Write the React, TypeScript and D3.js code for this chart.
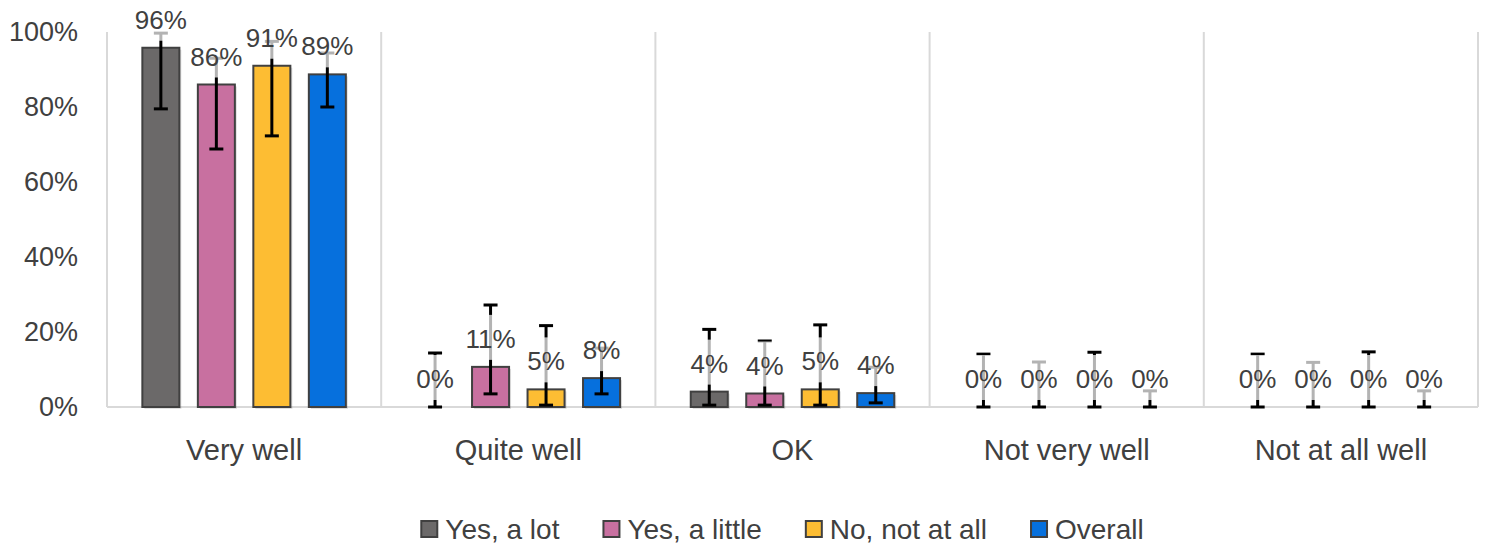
import React from "react";
import * as d3 from "d3";

const categories = ["Very well", "Quite well", "OK", "Not very well", "Not at all well"];
const seriesNames = ["Yes, a lot", "Yes, a little", "No, not at all", "Overall"];
const seriesColors = ["#6b6969", "#c870a0", "#fdbd33", "#0670dd"];

const yesALot = [0.958, 0, 0.041, 0, 0];
const yesALittle = [0.86, 0.107, 0.036, 0, 0];
const noNotAtAll = [0.91, 0.047, 0.047, 0, 0];
const overall = [0.887, 0.077, 0.037, 0, 0];

const yesALotUpper = [0.997, 0.144, 0.207, 0.141, 0.141];
const yesALittleUpper = [0.93, 0.272, 0.176, 0.12, 0.119];
const noNotAtAllUpper = [0.975, 0.217, 0.219, 0.146, 0.147];
const overallUpper = [0.944, 0.157, 0.106, 0.043, 0.043];

const yesALotLower = [0.795, 0, 0.005, 0, 0];
const yesALittleLower = [0.688, 0.035, 0.005, 0, 0];
const noNotAtAllLower = [0.723, 0.005, 0.005, 0, 0];
const overallLower = [0.8, 0.035, 0.011, 0, 0];

const yTicks = [0, 0.2, 0.4, 0.6, 0.8, 1.0];

const values = [yesALot, yesALittle, noNotAtAll, overall];
const uppers = [yesALotUpper, yesALittleUpper, noNotAtAllUpper, overallUpper];
const lowers = [yesALotLower, yesALittleLower, noNotAtAllLower, overallLower];

const W = 1488;
const H = 549;
const FONT = "'Liberation Sans', Arial, sans-serif";
const TEXT = "#404040";

function measure(text: string, size: number): number {
  try {
    const ctx = document.createElement("canvas").getContext("2d");
    if (ctx) {
      ctx.font = `${size}px 'Liberation Sans', Arial, sans-serif`;
      return ctx.measureText(text).width;
    }
  } catch (e) {
    /* ignore */
  }
  return text.length * size * 0.5;
}

export default function App() {
  const left = 107;
  const right = 1478;
  const top = 32;
  const bottom = 407;

  const x0 = d3.scaleBand<string>().domain(categories).range([left, right]).padding(0);
  const x1 = d3
    .scaleBand<string>()
    .domain(seriesNames)
    .range([0, x0.bandwidth()])
    .paddingInner(0.333)
    .paddingOuter(0.637);
  const y = d3.scaleLinear().domain([0, 1]).range([bottom, top]);

  const bw = x1.bandwidth();
  const capW = 14;

  // legend layout
  const legendFont = 28;
  const sq = 16;
  const gapAfterSq = 8;
  const itemGap = 44;
  const legendWidths = seriesNames.map((s) => measure(s, legendFont));
  const totalLegend =
    legendWidths.reduce((a, b) => a + b, 0) +
    seriesNames.length * (sq + gapAfterSq) +
    itemGap * (seriesNames.length - 1);
  let lx = 782.5 - totalLegend / 2;
  const legendItems = seriesNames.map((name, i) => {
    const item = { name, x: lx, color: seriesColors[i] };
    lx += sq + gapAfterSq + legendWidths[i] + itemGap;
    return item;
  });

  return (
    <svg width={W} height={H} style={{ display: "block", position: "absolute", left: 0, top: 0, background: "#fff" }}>
      {/* vertical gridlines */}
      {categories.map((c) => (
        <line key={"g" + c} x1={x0(c)!} x2={x0(c)!} y1={top} y2={bottom} stroke="#d9d9d9" strokeWidth={2} />
      ))}
      <line x1={right} x2={right} y1={top} y2={bottom} stroke="#d9d9d9" strokeWidth={2} />
      <line x1={left} x2={right} y1={bottom} y2={bottom} stroke="#d9d9d9" strokeWidth={2} />

      {/* y tick labels */}
      {yTicks.map((t) => (
        <text
          key={"t" + t}
          x={78}
          y={y(t)}
          dy="0.35em"
          textAnchor="end"
          fontFamily={FONT}
          fontSize={27}
          fill={TEXT}
        >
          {d3.format(".0%")(t)}
        </text>
      ))}

      {/* bars */}
      {categories.map((c, ci) =>
        seriesNames.map((s, si) => {
          const v = values[si][ci];
          if (v <= 0) return null;
          const bx = x0(c)! + x1(s)!;
          return (
            <g key={"b" + ci + si}>
              <rect x={bx + 2} y={y(v) + 2} width={bw} height={bottom - y(v)} fill="#000" opacity={0.12} />
              <rect
                x={bx}
                y={y(v)}
                width={bw}
                height={bottom - y(v)}
                fill={seriesColors[si]}
                stroke="#404040"
                strokeWidth={2}
              />
            </g>
          );
        })
      )}

      {/* error bars */}
      {categories.map((c, ci) =>
        seriesNames.map((s, si) => {
          const cx = x0(c)! + x1(s)! + bw / 2;
          const hi = y(uppers[si][ci]);
          const lo = y(lowers[si][ci]);
          return (
            <g key={"e" + ci + si} stroke="#000" strokeWidth={3}>
              <line x1={cx} x2={cx} y1={hi} y2={lo} />
              <line x1={cx - capW / 2} x2={cx + capW / 2} y1={hi} y2={hi} />
              <line x1={cx - capW / 2} x2={cx + capW / 2} y1={lo} y2={lo} />
            </g>
          );
        })
      )}

      {/* data label boxes (semi-transparent) */}
      {categories.map((c, ci) =>
        seriesNames.map((s, si) => {
          const cx = x0(c)! + x1(s)! + bw / 2;
          const vy = y(values[si][ci]);
          return (
            <rect
              key={"lb" + ci + si}
              x={cx - 28}
              y={vy - 7 - 45}
              width={56}
              height={45}
              fill="#fff"
              opacity={0.7}
            />
          );
        })
      )}

      {/* data labels */}
      {categories.map((c, ci) =>
        seriesNames.map((s, si) => {
          const cx = x0(c)! + x1(s)! + bw / 2;
          const v = values[si][ci];
          const vy = y(v);
          return (
            <text
              key={"l" + ci + si}
              x={cx}
              y={vy - 19}
              textAnchor="middle"
              fontFamily={FONT}
              fontSize={26}
              fill={TEXT}
            >
              {Math.round(v * 100) + "%"}
            </text>
          );
        })
      )}

      {/* category labels */}
      {categories.map((c) => (
        <text
          key={"c" + c}
          x={x0(c)! + x0.bandwidth() / 2}
          y={450}
          dy="0.35em"
          textAnchor="middle"
          fontFamily={FONT}
          fontSize={29}
          fill={TEXT}
        >
          {c}
        </text>
      ))}

      {/* legend */}
      {legendItems.map((it) => (
        <g key={"lg" + it.name}>
          <rect x={it.x} y={521} width={sq} height={sq} fill={it.color} stroke="#404040" strokeWidth={2} />
          <text
            x={it.x + sq + gapAfterSq}
            y={529}
            dy="0.35em"
            fontFamily={FONT}
            fontSize={legendFont}
            fill={TEXT}
          >
            {it.name}
          </text>
        </g>
      ))}
    </svg>
  );
}
